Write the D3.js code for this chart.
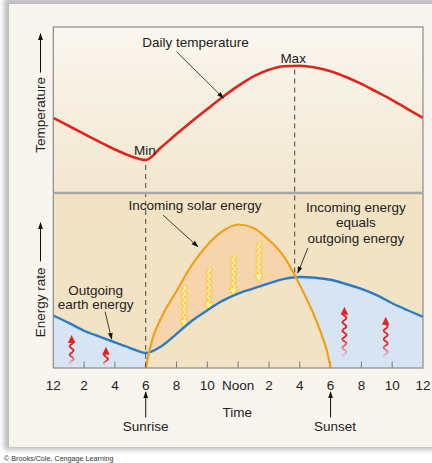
<!DOCTYPE html>
<html><head><meta charset="utf-8">
<script src="https://cdn.jsdelivr.net/npm/d3@7/dist/d3.min.js"></script>
<style>html,body{margin:0;padding:0;background:#fff}svg{display:block}text{font-family:"Liberation Sans",Arial,sans-serif}</style>
</head><body>
<script>
// ---------- data ----------
const hours = d3.range(0, 25);
const temperature = [45.2,40.4,35.6,30.8,26.2,22.3,19.9,27.5,35.5,43.2,50.6,57.8,64.5,70.3,74.3,76.4,76.7,75.6,73.4,69.9,65.7,60.9,56,50.6,45.2];
const outgoing = [30,25.8,21.3,17.9,14.6,11.4,8.6,12.3,19.5,27,33,38.5,42.5,45.5,48.4,50.9,52,51.6,50.4,48,45.2,41.6,37,33,29.2];
const solarHours = [6,6.25,6.5,7,8,9,10,11,12,13,14,15,16,17,17.5,17.75,18];
const solar = [0,10.3,18.3,28.6,44,58.9,70.3,78.3,82,80,73.1,63.4,47.4,28.6,17.1,10.3,0];
const tickHours = [0,2,4,6,8,10,12,14,16,18,20,22,24];
const tickLabels = ["12","2","4","6","8","10","Noon","2","4","6","8","10","12"];
const sunriseHour = 6, sunsetHour = 18, minHour = 6, maxHour = 15.67;
const sunArrowHours = [8.5,10.1,11.7,13.35];
const sunArrowTop = [46.5,57,64.5,72];
const sunArrowBottom = [23.5,33,41.5,49.5];
const heatArrowHours = [1.19,3.42,18.9,21.58];
const heatArrowTop = [18.9,12.2,35,29.3];
const heatArrowBottom = [1.5,1.5,5.5,5.5];

// ---------- layout ----------
const W = 432, H = 463;
const L = 53.3, R = 423, T = 27, MID = 193, B = 368;
const svg = d3.select("body").append("svg").attr("width", W).attr("height", H);
const defs = svg.append("defs");

const x = d3.scaleLinear().domain([0,24]).range([L,R]);
const yT = d3.scaleLinear().domain([0,100]).range([MID,T]);
const yE = d3.scaleLinear().domain([0,100]).range([B,MID]);

// gradients / filters
const g1 = defs.append("linearGradient").attr("id","topg").attr("x1",0).attr("y1",0).attr("x2",0).attr("y2",1);
g1.append("stop").attr("offset","0%").attr("stop-color","#faf7f0");
g1.append("stop").attr("offset","100%").attr("stop-color","#f2e6cf");
const sh = defs.append("filter").attr("id","shadow").attr("x","-5%").attr("y","-5%").attr("width","110%").attr("height","110%");
sh.append("feGaussianBlur").attr("stdDeviation",2.5);
const glow = defs.append("filter").attr("id","glow").attr("x","-100%").attr("y","-20%").attr("width","300%").attr("height","140%");
glow.append("feGaussianBlur").attr("stdDeviation",1.3);
const rg = defs.append("linearGradient").attr("id","redfade").attr("x1",0).attr("y1",0).attr("x2",0).attr("y2",1);
rg.append("stop").attr("offset","0%").attr("stop-color","#e52421").attr("stop-opacity",1);
rg.append("stop").attr("offset","55%").attr("stop-color","#e52421").attr("stop-opacity",1);
rg.append("stop").attr("offset","100%").attr("stop-color","#e52421").attr("stop-opacity",0);
const mk = defs.append("marker").attr("id","ah").attr("viewBox","0 0 10 10").attr("refX",9).attr("refY",5)
  .attr("markerWidth",7).attr("markerHeight",7).attr("orient","auto").attr("markerUnits","userSpaceOnUse");
mk.append("path").attr("d","M0,1.5L10,5L0,8.5Z").attr("fill","#111");

// page panel
svg.append("rect").attr("x",4).attr("y",-2).attr("width",440).attr("height",452).attr("fill","#bdbdbd").attr("filter","url(#shadow)");
svg.append("rect").attr("x",9).attr("y",4).attr("width",430).attr("height",443).attr("fill","#f8f5ee");

// top panel bg
svg.append("rect").attr("x",L).attr("y",T).attr("width",R-L).attr("height",MID-T).attr("fill","url(#topg)");
// lower panel bg
svg.append("rect").attr("x",L).attr("y",MID).attr("width",R-L).attr("height",B-MID).attr("fill","#f3e3c5");

const outData = hours.map((h,i)=>({h, v: outgoing[i]}));
const solData = solarHours.map((h,i)=>({h, v: solar[i]}));
const tempData = hours.map((h,i)=>({h, v: temperature[i]}));
const curve = d3.curveMonotoneX;

const areaOut = d3.area().x(d=>x(d.h)).y0(yE(0)).y1(d=>yE(d.v)).curve(curve);
const areaSol = d3.area().x(d=>x(d.h)).y0(yE(0)).y1(d=>yE(d.v)).curve(curve);

svg.append("path").attr("d",areaOut(outData)).attr("fill","#d6e4f3");
svg.append("path").attr("d",areaSol(solData)).attr("fill","#f6d5ac");
defs.append("clipPath").attr("id","solclip").append("path").attr("d",areaSol(solData));
svg.append("path").attr("d",areaOut(outData)).attr("fill","#f3e3c5").attr("clip-path","url(#solclip)");

// ticks (inside, bottom)
svg.append("g").selectAll("line").data(tickHours.filter(h=>h>0&&h<24)).join("line")
  .attr("x1",d=>x(d)).attr("x2",d=>x(d)).attr("y1",B).attr("y2",B-6.5)
  .attr("stroke","#7a7a7a").attr("stroke-width",1);

// wavy helper
function wavePts(xc, ya, yb, amp, wl){
  const pts=[]; const n=Math.max(8, Math.round(Math.abs(yb-ya)));
  for(let i=0;i<=n;i++){const yy=ya+(yb-ya)*i/n; pts.push([xc+amp*Math.sin(2*Math.PI*(yy-ya)/wl), yy]);}
  return pts;
}
const lineGen = d3.line().curve(d3.curveBasis);

// yellow sun arrows (pointing down)
sunArrowHours.forEach((h,i)=>{
  const xc=x(h), y0=yE(sunArrowTop[i]), y1=yE(sunArrowBottom[i]);
  const pts=wavePts(xc,y0,y1-6,1.5,6);
  const g=svg.append("g");
  g.append("path").attr("d",lineGen(pts)).attr("fill","none").attr("stroke","#ffc61a").attr("stroke-width",3.6).attr("filter","url(#glow)").attr("opacity",0.85);
  g.append("path").attr("d",`M${xc-4.5},${y1-7.5}L${xc+4.5},${y1-7.5}L${xc},${y1+1}Z`).attr("fill","#ffbf10").attr("filter","url(#glow)").attr("opacity",0.9);
  g.append("path").attr("d",lineGen(pts)).attr("fill","none").attr("stroke","#fffbe0").attr("stroke-width",1.1);
  g.append("path").attr("d",`M${xc-3.3},${y1-7}L${xc+3.3},${y1-7}L${xc},${y1}Z`).attr("fill","#fff3a0");
});

// red heat arrows (pointing up)
heatArrowHours.forEach((h,i)=>{
  const xc=x(h), yTop=yE(heatArrowTop[i]), yBot=yE(heatArrowBottom[i]);
  const pts=wavePts(xc,yBot,yTop+6,2.2,8.5);
  svg.append("path").attr("d",lineGen(pts)).attr("fill","none").attr("stroke","url(#redfade)").attr("stroke-width",1.8);
  svg.append("path").attr("d",`M${xc-3.8},${yTop+8}L${xc+3.8},${yTop+8}L${xc},${yTop}Z`).attr("fill","#e52421");
});

// curves
const lineFn = d3.line().x(d=>x(d.h)).y(d=>yE(d.v)).curve(curve);
svg.append("path").attr("d",lineFn(outData)).attr("fill","none").attr("stroke","#2b7cc6").attr("stroke-width",2.4);
svg.append("path").attr("d",lineFn(solData)).attr("fill","none").attr("stroke","#f0a11a").attr("stroke-width",2.2);
const tLine = d3.line().x(d=>x(d.h)).y(d=>yT(d.v)).curve(curve);

// dashed lines
const tempAt = h => { const i=Math.floor(h); const f=h-i; return temperature[i]*(1-f)+temperature[Math.min(24,i+1)]*f; };
const outAt = h => { const i=Math.floor(h); const f=h-i; return outgoing[i]*(1-f)+outgoing[Math.min(24,i+1)]*f; };
svg.append("line").attr("x1",x(minHour)).attr("x2",x(minHour)).attr("y1",yT(tempAt(minHour))+5).attr("y2",B)
  .attr("stroke","#444").attr("stroke-width",1).attr("stroke-dasharray","5,4");
svg.append("line").attr("x1",x(maxHour)).attr("x2",x(maxHour)).attr("y1",yT(76.8)+4).attr("y2",yE(outAt(maxHour))-2)
  .attr("stroke","#444").attr("stroke-width",1).attr("stroke-dasharray","5,4");

svg.append("path").attr("d",tLine(tempData)).attr("fill","none").attr("stroke","#e2231a").attr("stroke-width",2.6);

// frame + separator
svg.append("rect").attr("x",L).attr("y",T).attr("width",R-L).attr("height",B-T).attr("fill","none").attr("stroke","#8c8c8c").attr("stroke-width",1.2);
svg.append("line").attr("x1",L).attr("x2",R).attr("y1",MID).attr("y2",MID).attr("stroke","#a8a8a8").attr("stroke-width",2.6);

// tick labels
svg.append("g").selectAll("text").data(tickHours).join("text")
  .attr("x",d=>x(d)).attr("y",389.5).attr("text-anchor","middle").attr("font-size",13.5).attr("fill","#222")
  .text((d,i)=>tickLabels[i]);
svg.append("text").attr("x",x(12)-1).attr("y",416.5).attr("text-anchor","middle").attr("font-size",13.5).attr("fill","#222").text("Time");

// sunrise / sunset
[[sunriseHour,"Sunrise",0],[sunsetHour,"Sunset",4.5]].forEach(([h,lab,dx])=>{
  svg.append("line").attr("x1",x(h)).attr("x2",x(h)).attr("y1",417.5).attr("y2",392).attr("stroke","#111").attr("stroke-width",1).attr("marker-end","url(#ah)");
  svg.append("text").attr("x",x(h)+dx).attr("y",431).attr("text-anchor","middle").attr("font-size",13.5).attr("fill","#222").text(lab);
});

// y axis labels
function yLabel(cy, txt, a0, a1){
  svg.append("text").attr("transform",`translate(44.5,${cy}) rotate(-90)`).attr("text-anchor","middle").attr("font-size",13.5).attr("fill","#222").text(txt);
  svg.append("line").attr("x1",40.5).attr("x2",40.5).attr("y1",a0).attr("y2",a1).attr("stroke","#111").attr("stroke-width",1).attr("marker-end","url(#ah)");
}
yLabel(yT(47),"Temperature",yT(72.5),yT(96));
yLabel(yE(37.5),"Energy rate",yE(61),yE(83));

// annotations
function txt(h, yy, s){ svg.append("text").attr("x",x(h)).attr("y",yy).attr("text-anchor","middle").attr("font-size",13.5).attr("fill","#222").text(s); }
function leader(h0,y0,h1,y1){ svg.append("line").attr("x1",x(h0)).attr("y1",y0).attr("x2",x(h1)).attr("y2",y1).attr("stroke","#111").attr("stroke-width",0.8).attr("marker-end","url(#ah)"); }

txt(9.23, yT(87.7), "Daily temperature");
leader(8.0, yT(85.1), 11.04, yT(57.2));
txt(maxHour-0.1, yT(78.3), "Max");
txt(minHour-0.05, yT(22.9), "Min");
txt(9.2, yE(90.3), "Incoming solar energy");
leader(7.12, yE(87.4), 9.39, yE(69.3));
txt(19.64, yE(88.9), "Incoming energy");
txt(19.64, yE(80.6), "equals");
txt(19.64, yE(71.7), "outgoing energy");
leader(16.53, yE(68.6), 15.87, yE(54.3));
txt(2.75, yE(41.9), "Outgoing");
txt(2.75, yE(33.7), "earth energy");
leader(3.36, yE(32.2), 3.79, yE(16.5));

// copyright
svg.append("text").attr("x",4).attr("y",461).attr("font-size",7.2).attr("fill","#333").text("© Brooks/Cole, Cengage Learning");
</script>
</body></html>
